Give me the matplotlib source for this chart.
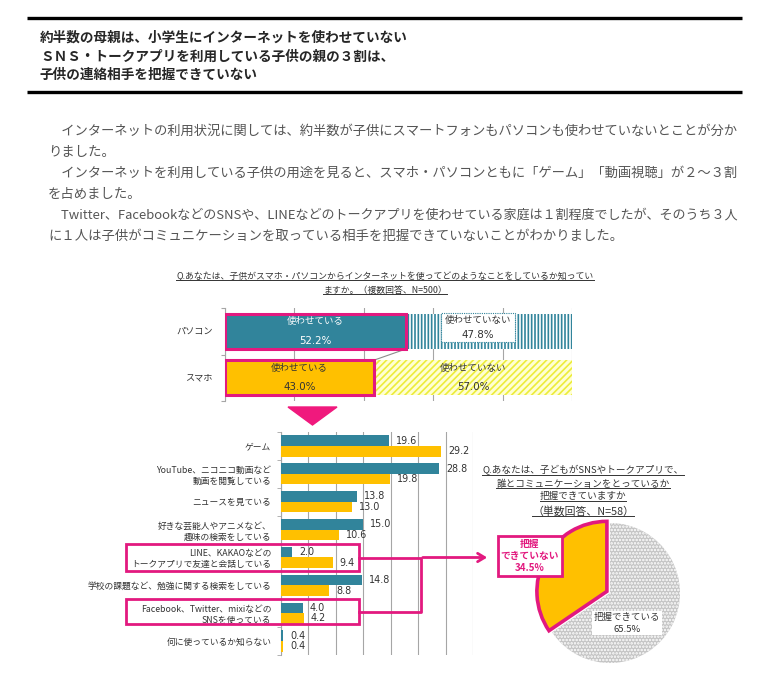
import matplotlib.pyplot as plt
import matplotlib.patches as mpatches
import numpy as np

plt.rcParams['font.family'] = ['Noto Sans CJK JP', 'DejaVu Sans']
plt.rcParams['hatch.linewidth'] = 1.2

TEAL = '#31849B'
ORANGE = '#FFC000'
PINK = '#E2197F'
GRID = '#A6A6A6'
TXT = '#333333'

header_lines = [
    '約半数の母親は、小学生にインターネットを使わせていない',
    'ＳＮＳ・トークアプリを利用している子供の親の３割は、',
    '子供の連絡相手を把握できていない',
]
body_lines = [
    '\u3000インターネットの利用状況に関しては、約半数が子供にスマートフォンもパソコンも使わせていないとことが分か',
    'りました。',
    '\u3000インターネットを利用している子供の用途を見ると、スマホ・パソコンともに「ゲーム」「動画視聴」が２～３割',
    'を占めました。',
    '\u3000Twitter、FacebookなどのSNSや、LINEなどのトークアプリを使わせている家庭は１割程度でしたが、そのうち３人',
    'に１人は子供がコミュニケーションを取っている相手を把握できていないことがわかりました。',
]

# Q1: do you let them use it
q1_title = [
    'Q.あなたは、子供がスマホ・パソコンからインターネットを使ってどのようなことをしているか知ってい',
    'ますか。（複数回答、N=500）',
]
device_labels = ['パソコン', 'スマホ']
used_pct = [52.2, 43.0]
not_used_pct = [47.8, 57.0]

# usage breakdown
usage_labels = [
    'ゲーム',
    'YouTube、ニコニコ動画など\n動画を閲覧している',
    'ニュースを見ている',
    '好きな芸能人やアニメなど、\n趣味の検索をしている',
    'LINE、KAKAOなどの\nトークアプリで友達と会話している',
    '学校の課題など、勉強に関する検索をしている',
    'Facebook、Twitter、mixiなどの\nSNSを使っている',
    '何に使っているか知らない',
]
pc_values = [19.6, 28.8, 13.8, 15.0, 2.0, 14.8, 4.0, 0.4]
phone_values = [29.2, 19.8, 13.0, 10.6, 9.4, 8.8, 4.2, 0.4]

# Q2 pie
q2_title = [
    'Q.あなたは、子どもがSNSやトークアプリで、',
    '誰とコミュニケーションをとっているか',
    '把握できていますか',
    '（単数回答、N=58）',
]
pie_labels = ['把握\nできていない', '把握できている']
pie_values = [34.5, 65.5]

W, H = 771, 692
fig = plt.figure(figsize=(W / 100, H / 100), dpi=100)
fig.patch.set_facecolor('white')


def box(l, t, r, b):
    return [l / W, 1 - b / H, (r - l) / W, (b - t) / H]


over = fig.add_axes([0, 0, 1, 1], zorder=10)
over.set_xlim(0, W)
over.set_ylim(H, 0)
over.axis('off')
over.patch.set_visible(False)

# header
for yy in (18, 92):
    over.plot([27, 742], [yy, yy], color='black', lw=2.4, solid_capstyle='butt')
for i, s in enumerate(header_lines):
    over.text(40, 38 + i * 18.5, s, fontsize=9.8, fontweight='bold', color='#262626', va='center')

body_texts = []
for i, s in enumerate(body_lines):
    body_texts.append(over.text(48, 131 + i * 21, s, fontsize=9.6, color='#555555', va='center'))

underlined = []
for i, s in enumerate(q1_title):
    underlined.append(over.text(385, 276 + i * 14, s, fontsize=6.4, color=TXT, ha='center', va='center'))

# ---- top stacked chart
ax1 = fig.add_axes(box(225, 308, 572, 401))
yp = [1, 0]
bh = 0.76
ax1.barh(yp, used_pct, height=bh, color=[TEAL, ORANGE], edgecolor=PINK, linewidth=2.2, zorder=4)
ax1.barh(yp[0], not_used_pct[0], left=used_pct[0], height=bh, facecolor='white',
         edgecolor=TEAL, hatch='|||||', linewidth=0, zorder=3)
ax1.barh(yp[1], not_used_pct[1], left=used_pct[1], height=bh, facecolor='#FFFFD2',
         edgecolor='#ECEC3A', hatch='/////', linewidth=0, zorder=3)
ax1.plot([used_pct[0], used_pct[1]], [yp[0] - bh / 2, yp[1] + bh / 2], color='#8C8C8C', lw=0.8, zorder=2)
ax1.set_xlim(0, 100)
ax1.set_ylim(-0.5, 1.5)
ax1.set_xticks([0, 20, 40, 60, 80, 100])
ax1.grid(axis='x', color=GRID, lw=0.8)
ax1.set_axisbelow(True)
ax1.tick_params(axis='x', length=0, labelbottom=False)
ax1.set_yticks([-0.5, 0.5, 1.5])
ax1.tick_params(axis='y', length=3, color=GRID, labelleft=False)
for sp in ('top', 'right', 'bottom'):
    ax1.spines[sp].set_visible(False)
ax1.spines['left'].set_color(GRID)
for y, lab in zip(yp, device_labels):
    ax1.text(-0.035, y, lab, transform=ax1.get_yaxis_transform(), ha='right', va='center',
             fontsize=6.6, color=TXT)
for y, u, c in zip(yp, used_pct, ['white', TXT]):
    ax1.text(u / 2, y + 0.2, '使わせている', ha='center', va='center', fontsize=6.8, color=c, zorder=5)
    ax1.text(u / 2, y - 0.2, f'{u:.1f}%', ha='center', va='center', fontsize=7.4, color=c,
             family='DejaVu Sans', zorder=5)
ax1.add_patch(mpatches.Rectangle((62.2, yp[0] - 0.24), 21.4, 0.63, facecolor='white', edgecolor=TEAL,
                                 lw=0.8, ls=(0, (1, 1)), zorder=4))
ax1.text(72.9, yp[0] + 0.24, '使わせていない', ha='center', va='center', fontsize=6.8, color=TXT, zorder=5)
ax1.text(72.9, yp[0] - 0.09, f'{not_used_pct[0]:.1f}%', ha='center', va='center', fontsize=7.4,
         color=TXT, family='DejaVu Sans', zorder=5)
mid = (used_pct[1] + 100) / 2
ax1.text(mid, yp[1] + 0.2, '使わせていない', ha='center', va='center', fontsize=6.8, color=TXT, zorder=5)
ax1.text(mid, yp[1] - 0.2, f'{not_used_pct[1]:.1f}%', ha='center', va='center', fontsize=7.4,
         color=TXT, family='DejaVu Sans', zorder=5)

# pink arrow triangle
over.add_patch(mpatches.Polygon([[288, 407], [337, 407], [312.5, 425]], closed=True, color='#F0197D'))

# ---- usage bar chart
ax2 = fig.add_axes(box(281, 432, 473, 655))
idx = np.arange(len(usage_labels))
h = 0.38
b_pc = ax2.barh(idx - h / 2, pc_values, height=h, color=TEAL, zorder=3)
b_ph = ax2.barh(idx + h / 2, phone_values, height=h, color=ORANGE, zorder=3)
for cont in (b_pc, b_ph):
    ax2.bar_label(cont, fmt='%.1f', padding=5, fontsize=6.9, color=TXT, family='DejaVu Sans')
ax2.set_xlim(0, 35)
ax2.set_ylim(len(usage_labels) - 0.5, -0.5)
ax2.set_xticks(np.arange(0, 36, 5))
ax2.grid(axis='x', color=GRID, lw=0.8)
ax2.set_axisbelow(True)
ax2.tick_params(axis='x', length=0, labelbottom=False)
ax2.set_yticks(idx)
ax2.set_yticklabels(usage_labels, fontsize=6.3, color=TXT, linespacing=1.25)
ax2.set_yticks(np.arange(-0.5, len(usage_labels), 1), minor=True)
ax2.tick_params(axis='y', which='major', length=0, pad=7)
ax2.tick_params(axis='y', which='minor', length=3, color=GRID)
for sp in ('top', 'right', 'bottom'):
    ax2.spines[sp].set_visible(False)
ax2.spines['left'].set_color(GRID)

# highlight boxes and connector
over.add_patch(mpatches.Rectangle((126, 544), 233, 27, fill=False, edgecolor=PINK, lw=2))
over.add_patch(mpatches.Rectangle((126, 599), 233, 25, fill=False, edgecolor=PINK, lw=2))
over.plot([359, 421, 421, 359], [557.5, 557.5, 611.5, 611.5], color=PINK, lw=2)
over.annotate('', xy=(490, 557.5), xytext=(420, 557.5),
              arrowprops=dict(arrowstyle='->,head_length=0.5,head_width=0.3', color=PINK, lw=2))

# ---- pie
for i, s in enumerate(q2_title):
    yy = [470, 484, 497, 511][i]
    underlined.append(over.text(583, yy, s, fontsize=6.9 if i < 3 else 7.8, color=TXT,
                                ha='center', va='center'))

ax3 = fig.add_axes(box(540, 523, 680, 663))
wedges, _ = ax3.pie(pie_values, startangle=90, counterclock=True, explode=[0.05, 0],
                    colors=[ORANGE, '#C4C4C4'])
wedges[0].set_edgecolor(PINK)
wedges[0].set_linewidth(2.6)
wedges[1].set_edgecolor('white')
wedges[1].set_linewidth(0)
wedges[1].set_hatch('.....')
for w in wedges:
    w.set_clip_on(False)
wedges[0].set_zorder(3)
ax3.set_xlim(-1, 1)
ax3.set_ylim(-1, 1)
ax3.text(0.24, -0.43, f'{pie_labels[1]}\n{pie_values[1]:.1f}%', ha='center', va='center', fontsize=6.8,
         color=TXT, linespacing=1.4, bbox=dict(boxstyle='square,pad=0.2', facecolor='white', edgecolor='none'))

over.text(530, 556, f'{pie_labels[0]}\n{pie_values[0]:.1f}%', ha='center', va='center', fontsize=7,
          fontweight='bold', color=PINK, linespacing=1.3,
          bbox=dict(boxstyle='square,pad=0.3', facecolor='white', edgecolor=PINK, lw=2))

# keep body lines inside the text column, then underline titles
fig.canvas.draw()
r = fig.canvas.get_renderer()
inv = over.transData.inverted()
for t in body_texts:
    bb = t.get_window_extent(r)
    if bb.x1 > 742:
        t.set_fontsize(t.get_fontsize() * (742 - 48) / (bb.x1 - 48))
for t in underlined:
    bb = t.get_window_extent(r)
    (x0, y0), (x1, _) = inv.transform([[bb.x0, bb.y0], [bb.x1, bb.y1]])
    over.plot([x0, x1], [y0 - 0.5, y0 - 0.5], color=TXT, lw=0.7)

fig.savefig('out.png', dpi=100)
